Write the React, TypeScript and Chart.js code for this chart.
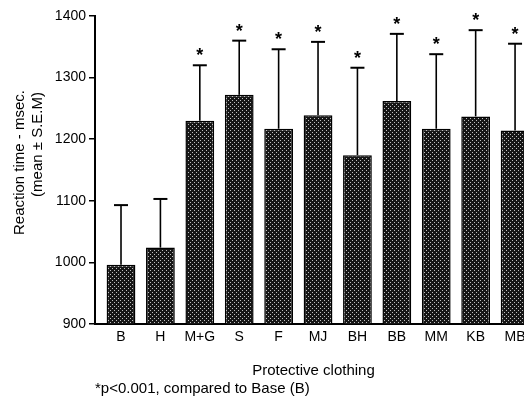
import React, { useEffect, useRef } from 'react';
import { Chart, registerables } from 'chart.js';

Chart.register(...registerables);

const categories = ['B', 'H', 'M+G', 'S', 'F', 'MJ', 'BH', 'BB', 'MM', 'KB', 'MB'];
const meanValues = [996, 1024, 1230, 1272, 1217, 1239, 1174, 1262, 1217, 1237, 1214];
const semValues = [97, 79, 90, 88, 129, 119, 142, 109, 121, 140, 141];
const significant = [false, false, true, true, true, true, true, true, true, true, true];
const yTicks = [900, 1000, 1100, 1200, 1300, 1400];
const yTitleLines = ['Reaction time - msec.', '(mean ± S.E.M)'];
const xTitle = 'Protective clothing';
const footnote = '*p<0.001, compared to Base (B)';
const FONT = '"Liberation Sans", Arial, Helvetica, sans-serif';

function makePattern(): CanvasPattern | string {
  const c = document.createElement('canvas');
  c.width = 4;
  c.height = 4;
  const g = c.getContext('2d');
  if (!g) return '#333';
  g.fillStyle = '#161616';
  g.fillRect(0, 0, 4, 4);
  g.fillStyle = '#c0c0c0';
  g.fillRect(0, 0, 1, 1);
  g.fillRect(2, 2, 1, 1);
  const p = g.createPattern(c, 'repeat');
  return p || '#333';
}

const errorBarPlugin = {
  id: 'errorBars',
  afterDatasetsDraw(chart: any) {
    const { ctx, scales } = chart;
    const xs = scales.x;
    const ys = scales.y;
    ctx.save();
    ctx.strokeStyle = '#000';
    ctx.fillStyle = '#000';
    meanValues.forEach((m, i) => {
      const px = xs.getPixelForValue(i);
      const base = ys.getPixelForValue(m);
      const top = ys.getPixelForValue(m + semValues[i]);
      ctx.lineWidth = 1.6;
      ctx.beginPath();
      ctx.moveTo(px, base);
      ctx.lineTo(px, top);
      ctx.stroke();
      ctx.lineWidth = 2;
      ctx.beginPath();
      ctx.moveTo(px - 7, top);
      ctx.lineTo(px + 7, top);
      ctx.stroke();
      if (significant[i]) {
        ctx.font = `bold 18px ${FONT}`;
        ctx.textAlign = 'center';
        ctx.textBaseline = 'alphabetic';
        ctx.fillText('*', px, top - 4);
      }
    });
    ctx.restore();
  },
};

const yTitlePlugin = {
  id: 'yTitle',
  afterDraw(chart: any) {
    const { ctx, chartArea } = chart;
    ctx.save();
    ctx.fillStyle = '#000';
    ctx.font = `15px ${FONT}`;
    ctx.textAlign = 'right';
    ctx.textBaseline = 'middle';
    const anchors = [
      { dx: -75, dy: 74 },
      { dx: -57, dy: 76 },
    ];
    yTitleLines.forEach((line, i) => {
      ctx.save();
      ctx.translate(chartArea.left + anchors[i].dx, chartArea.top + anchors[i].dy);
      ctx.rotate(-Math.PI / 2);
      ctx.fillText(line, 0, 0);
      ctx.restore();
    });
    ctx.restore();
  },
};

export default function App() {
  const ref = useRef<HTMLCanvasElement | null>(null);

  useEffect(() => {
    if (!ref.current) return;
    document.body.style.overflow = 'hidden';
    Chart.defaults.font.family = FONT;
    Chart.defaults.color = '#000';
    const pattern = makePattern();
    const chart = new Chart(ref.current, {
      type: 'bar',
      data: {
        datasets: [
          {
            data: meanValues.map((v, i) => ({ x: i, y: v })),
            backgroundColor: pattern as any,
            borderColor: '#000',
            borderWidth: 1.5,
            barPercentage: 0.73,
            categoryPercentage: 1,
          },
        ],
      },
      options: {
        responsive: false,
        animation: false,
        layout: { padding: { top: 8, left: 0, right: 0, bottom: 0 } },
        plugins: {
          legend: { display: false },
          tooltip: { enabled: false },
          subtitle: {
            display: true,
            position: 'bottom',
            align: 'start',
            fullSize: false,
            text: footnote,
            color: '#000',
            font: { size: 15, family: FONT },
            padding: { top: 0, bottom: 3 },
          },
        },
        scales: {
          x: {
            type: 'linear',
            min: -0.66,
            max: 10.43,
            offset: false,
            afterBuildTicks: (scale: any) => {
              scale.ticks = categories.map((_, i) => ({ value: i }));
            },
            afterFit: (scale: any) => {
              scale.height = 56;
              scale.paddingRight = 0;
              scale.paddingLeft = 0;
            },
            grid: { display: false, drawTicks: false },
            border: { display: true, color: '#000', width: 2 },
            ticks: {
              autoSkip: false,
              maxRotation: 0,
              includeBounds: false,
              padding: 5,
              color: '#000',
              font: { size: 14, family: FONT },
              callback: (v: any) => categories[Math.round(Number(v))] ?? '',
            },
            title: {
              display: true,
              text: xTitle,
              color: '#000',
              font: { size: 15, family: FONT },
              padding: { top: 0, bottom: 0 },
            },
          },
          y: {
            min: 900,
            max: 1400,
            afterBuildTicks: (scale: any) => {
              scale.ticks = yTicks.map((v) => ({ value: v }));
            },
            afterFit: (scale: any) => {
              scale.width = 87;
              scale.paddingTop = 0;
              scale.paddingBottom = 0;
            },
            grid: {
              display: true,
              drawOnChartArea: false,
              drawTicks: true,
              tickLength: 6,
              color: '#000',
              lineWidth: 1.5,
            },
            border: { display: true, color: '#000', width: 2 },
            ticks: {
              padding: 3,
              color: '#000',
              font: { size: 14, family: FONT },
              callback: (v: any) => String(v),
            },
          },
        },
      },
      plugins: [errorBarPlugin, yTitlePlugin],
    } as any);
    return () => chart.destroy();
  }, []);

  return (
    <div style={{ width: 524, height: 393, overflow: 'hidden' }}>
      <canvas ref={ref} width={524} height={393} style={{ display: 'block' }} />
    </div>
  );
}
